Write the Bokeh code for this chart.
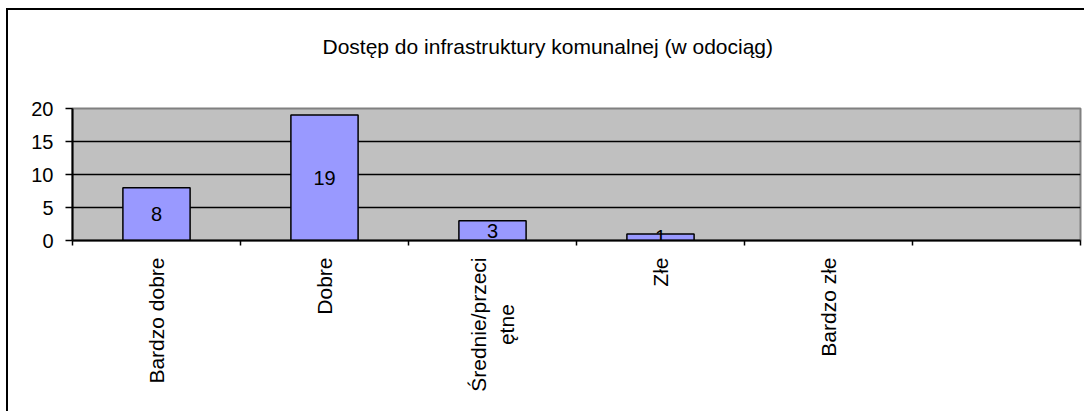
import math
from bokeh.plotting import figure
from bokeh.models import Range1d, FixedTicker, Title
from bokeh.models import ColumnDataSource
from bokeh.core.properties import value
from bokeh.embed import file_html
from bokeh.resources import INLINE

# ---- data ----
title_text = "Dostęp do infrastruktury komunalnej (w odociąg)"
categories = ["Bardzo dobre", "Dobre", "Średnie/przeci\nętne        ", "Złe", "Bardzo złe", ""]
counts = [8, 19, 3, 1, None, None]
y_ticks = [0, 5, 10, 15, 20]
grid_ticks = [5, 10, 15]

FONT = "Liberation Sans"
n = len(categories)

p = figure(width=1078, height=403,
           x_range=Range1d(0, n), y_range=Range1d(0, 20),
           output_backend="svg", toolbar_location=None,
           min_border_left=64, min_border_right=6,
           min_border_top=98, min_border_bottom=173)
p.styles = {"margin-left": "6px", "margin-top": "8px",
            "border-left": "2px solid black", "border-top": "2px solid black"}

# title: a thin spacer keeps the title well above the plot area
p.add_layout(Title(text=" ", text_font_size="1px", standoff=48), "above")
p.add_layout(Title(text=title_text, align="left", offset=250, standoff=0,
                   text_font=FONT, text_font_size="21px", text_font_style="normal",
                   text_color="black"), "above")

p.background_fill_color = "#C0C0C0"
p.border_fill_color = "white"
p.outline_line_color = "#808080"
p.outline_line_width = 2

p.xgrid.visible = False
p.ygrid.ticker = FixedTicker(ticks=grid_ticks)
p.ygrid.grid_line_color = "black"
p.ygrid.grid_line_width = 1.5

# y axis
p.yaxis.ticker = FixedTicker(ticks=y_ticks)
p.yaxis.axis_line_color = "black"
p.yaxis.axis_line_width = 2
p.yaxis.major_tick_line_color = "black"
p.yaxis.major_tick_line_width = 1.5
p.yaxis.major_tick_out = 7
p.yaxis.major_tick_in = 0
p.yaxis.minor_tick_line_color = None
p.yaxis.major_label_text_font = FONT
p.yaxis.major_label_text_font_size = "20px"
p.yaxis.major_label_text_color = "black"
p.yaxis.major_label_standoff = 12

# x axis: labels at category centres, ticks at category boundaries
centres = [i + 0.5 for i in range(n)]
p.xaxis.ticker = FixedTicker(ticks=centres, minor_ticks=list(range(n + 1)))
p.xaxis.major_label_overrides = {c: cat for c, cat in zip(centres, categories)}
p.xaxis.major_label_orientation = math.pi / 2
p.xaxis.axis_line_color = "black"
p.xaxis.axis_line_width = 2
p.xaxis.major_tick_line_color = None
p.xaxis.major_tick_out = 0
p.xaxis.major_tick_in = 0
p.xaxis.minor_tick_line_color = "black"
p.xaxis.minor_tick_line_width = 1.5
p.xaxis.minor_tick_out = 5
p.xaxis.minor_tick_in = 0
p.xaxis.major_label_text_font = FONT
p.xaxis.major_label_text_font_size = "21px"
p.xaxis.major_label_text_color = "black"
p.xaxis.major_label_standoff = 12

# bars
xs = [c for c, v in zip(centres, counts) if v is not None]
tops = [v for v in counts if v is not None]
src = ColumnDataSource(dict(x=xs, top=tops, mid=[t / 2 for t in tops], lab=[str(t) for t in tops]))
p.vbar(x="x", top="top", bottom=0, width=0.4, source=src,
       fill_color="#9999FF", line_color="black", line_width=1.5)
p.text(x="x", y="mid", text="lab", source=src, text_align="center", text_baseline="middle",
       text_font=value(FONT), text_font_size="20px", text_color="black")

open("out.html", "w").write(file_html(p, INLINE))
